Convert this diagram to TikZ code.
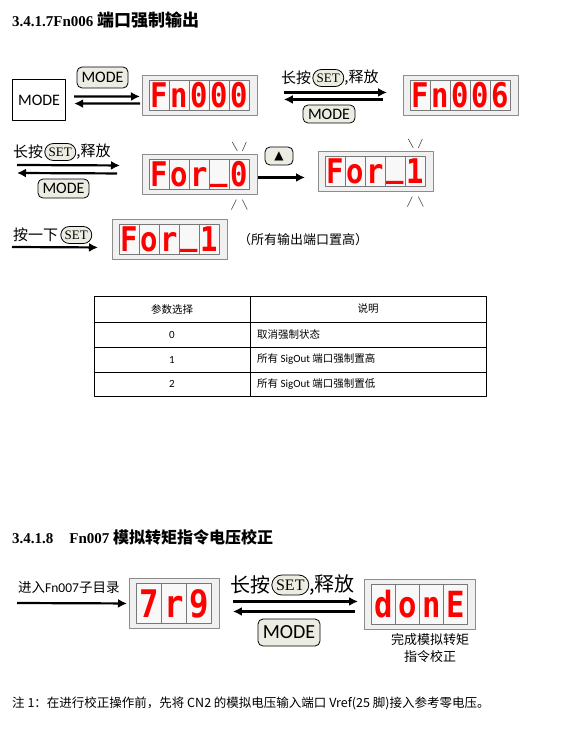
\documentclass[tikz,border=0pt]{standalone}
\usepackage{fontspec}
\setmainfont{Liberation Serif}
\newfontfamily\cjk{Noto Sans CJK SC}
\newfontfamily\carlito{Carlito}
\newfontfamily\ledfont{DejaVu Sans Mono}
\newfontfamily\dejavu{DejaVu Sans}
\usetikzlibrary{positioning,arrows.meta,shapes.misc}

\definecolor{ledred}{RGB}{255,0,0}
\definecolor{keyfill}{RGB}{236,236,226}
\definecolor{panelfill}{RGB}{240,240,240}
\definecolor{panelline}{RGB}{140,140,140}
\definecolor{cellfill}{RGB}{248,248,248}
\definecolor{cellline}{RGB}{120,120,120}
\definecolor{blinkgray}{RGB}{70,70,70}

\newcommand{\lowbar}{\raisebox{0.2em}{\_}}

% Panel de LEDs: nombre, x, y, celdas, ancho, alto, caracteres, tamaño
\newcommand{\leddisp}[8]{%
  \node[ledframe,minimum width=#4*#5pt+15pt,minimum height=#6pt+10pt]
    (#1) at (#2,#3) {};
  \foreach \ch [count=\k from 0] in {#7}
    \node[ledcell,minimum width=#5pt,minimum height=#6pt,
      font=\ledfont\bfseries\fontsize{#8}{#8}\selectfont]
      (#1-\k) at (#2+7+\k*#5,#3+5)
      {\vphantom{F}\smash{\scalebox{0.85}[1]{\ch}}};
}

% Marcas de parpadeo sobre y bajo una celda
\newcommand{\blinkmarks}[1]{%
  \draw[blink] ([shift={(-7,-17)}]#1.north) -- ([shift={(-2,-8)}]#1.north);
  \draw[blink] ([shift={(7,-17)}]#1.north) -- ([shift={(3,-8)}]#1.north);
  \draw[blink] ([shift={(-3,10)}]#1.south) -- ([shift={(-8,20)}]#1.south);
  \draw[blink] ([shift={(3,10)}]#1.south) -- ([shift={(8,20)}]#1.south);
}

\begin{document}
\begin{tikzpicture}[x=1pt,y=-1pt,line join=round,
    txt/.style={inner sep=0pt},
    flow/.style={line width=2.2pt,-{Latex[length=9pt,width=9pt]}},
    keycap/.style={draw,line width=0.8pt,fill=keyfill,rounded corners=5pt,
      inner sep=0pt},
    setcap/.style={rounded rectangle,draw,line width=0.8pt,fill=keyfill,
      inner sep=0pt},
    ledframe/.style={anchor=north west,draw=panelline,fill=panelfill,
      line width=0.9pt,inner sep=0pt},
    ledcell/.style={anchor=north west,draw=cellline,fill=cellfill,
      line width=0.6pt,inner sep=0pt,text=ledred},
    blink/.style={blinkgray,line width=0.6pt},
    tabline/.style={line width=0.6pt}]

    % Fondo y márgenes
    \fill[white] (0,0) rectangle (571,746);

    %----------------------------------------------------------
    % 3.4.1.7 Fn006
    \node[txt,anchor=west,font=\fontsize{15}{18}\selectfont\bfseries] (title1)
        at (12,20) {3.4.1.7Fn006 {\cjk\fontsize{17}{18}\selectfont 端口强制输出}};

    % Fila 1: MODE -> Fn000 -> Fn006
    \node[draw,line width=1.2pt,anchor=north west,minimum width=53pt,
        minimum height=41pt,inner sep=0pt,
        font=\carlito\fontsize{16}{18}\selectfont] (modebox) at (12,79) {MODE};
    \node[keycap,minimum width=51pt,minimum height=21pt,
        font=\carlito\fontsize{16}{18}\selectfont] (modekey1) at (102.5,77.5) {MODE};
    \leddisp{fn000}{142}{75}{5}{20}{30}{F,n,0,0,0}{34}
    \draw[flow] ([xshift=8pt,yshift=3.5pt]modebox.east)
        -- ([xshift=-2pt,yshift=-1pt]fn000.west);
    \draw[flow] ([xshift=-2pt,yshift=-8pt]fn000.west)
        -- ([xshift=8pt,yshift=-3.5pt]modebox.east);

    \node[txt,anchor=west,font=\cjk\fontsize{15}{18}\selectfont] (press1)
        at (281,78) {长按};
    \node[setcap,right=1pt of press1,minimum width=31pt,minimum height=17pt,
        font=\fontsize{13}{15}\selectfont] (setkey1) {SET};
    \node[txt,right=0pt of setkey1,font=\cjk\fontsize{15}{18}\selectfont] (rel1) {,释放};
    \leddisp{fn006}{403}{75}{5}{20}{30}{F,n,0,0,6}{34}
    \draw[flow] ([xshift=26pt,yshift=3pt]fn000.east)
        -- ([xshift=-16pt,yshift=3pt]fn006.west);
    \draw[flow] ([xshift=-20pt,yshift=-4pt]fn006.west)
        -- ([xshift=26pt,yshift=-4pt]fn000.east);
    \node[keycap,minimum width=52pt,minimum height=18pt,
        font=\carlito\fontsize{16}{18}\selectfont] (modekey2) at (329,114) {MODE};

    % Fila 2: For_0 -> For_1
    \node[txt,anchor=west,font=\cjk\fontsize{15}{18}\selectfont] (press2)
        at (13,152) {长按};
    \node[setcap,right=1pt of press2,minimum width=31pt,minimum height=17pt,
        font=\fontsize{13}{15}\selectfont] (setkey2) {SET};
    \node[txt,right=0pt of setkey2,font=\cjk\fontsize{15}{18}\selectfont] (rel2) {,释放};
    \coordinate (in2) at (17,165);
    \coordinate (out2) at (17,173);
    \leddisp{for0}{142}{154}{5}{20}{30}{F,o,r,\lowbar,0}{34}
    \draw[flow] (in2) -- ([xshift=-22pt,yshift=9pt]for0.west);
    \draw[flow] ([xshift=-25pt,yshift=1pt]for0.west) -- (out2);
    \node[keycap,minimum width=51pt,minimum height=19pt,
        font=\carlito\fontsize{16}{18}\selectfont] (modekey3) at (63.5,188.5) {MODE};
    \blinkmarks{for0-4}

    \node[keycap,minimum width=28pt,minimum height=18pt,
        font=\dejavu\fontsize{12}{12}\selectfont] (upkey) at (279,156) {▲};
    \leddisp{for1}{318}{151}{5}{20}{30}{F,o,r,\lowbar,1}{34}
    \blinkmarks{for1-4}
    \draw[flow] ([yshift=-3pt]for0.east) -- ([xshift=-13pt,yshift=-6pt]for1.west);

    % Fila 3: confirmación
    \node[txt,anchor=west,font=\cjk\fontsize{15}{18}\selectfont] (tap3)
        at (13,235) {按一下};
    \node[setcap,right=2pt of tap3,minimum width=31pt,minimum height=17pt,
        font=\fontsize{13}{15}\selectfont] (setkey3) {SET};
    \coordinate (in3) at (12,247);
    \leddisp{for1b}{112}{219}{5}{20}{30}{F,o,r,\lowbar,1}{34}
    \draw[flow] (in3) -- ([xshift=-14pt,yshift=-8pt]for1b.west);
    \node[txt,anchor=west,font=\cjk\fontsize{13}{15}\selectfont] (hint3)
        at (238,240) {（所有输出端口置高）};

    % Tabla de parámetros
    \draw[tabline] (94,296) rectangle (486,396);
    \draw[tabline] (250,296) -- (250,396);
    \foreach \yy in {322,347,372}
        \draw[tabline] (94,\yy) -- (486,\yy);
    \node[txt,font=\cjk\fontsize{10.5}{12}\selectfont] (colpar) at (172,309) {参数选择};
    \node[txt,font=\cjk\fontsize{10.5}{12}\selectfont] (coldesc) at (368,309) {说明};
    \node[txt,font=\carlito\fontsize{11}{12}\selectfont] (val0) at (172,334.5) {0};
    \node[txt,font=\carlito\fontsize{11}{12}\selectfont] (val1) at (172,359.5) {1};
    \node[txt,font=\carlito\fontsize{11}{12}\selectfont] (val2) at (172,384) {2};
    \node[txt,anchor=west,font=\cjk\fontsize{10.5}{12}\selectfont] (desc0)
        at (257,334.5) {取消强制状态};
    \node[txt,anchor=west,font=\cjk\fontsize{10.5}{12}\selectfont] (desc1)
        at (257,359.5) {所有 {\carlito\fontsize{11}{12}\selectfont SigOut} 端口强制置高};
    \node[txt,anchor=west,font=\cjk\fontsize{10.5}{12}\selectfont] (desc2)
        at (257,384) {所有 {\carlito\fontsize{11}{12}\selectfont SigOut} 端口强制置低};

    %----------------------------------------------------------
    % 3.4.1.8 Fn007
    \node[txt,anchor=west,font=\fontsize{15}{18}\selectfont\bfseries] (title2)
        at (12,537) {3.4.1.8\hspace{16pt}Fn007 {\cjk\fontsize{16}{18}\selectfont 模拟转矩指令电压校正}};

    \node[txt,anchor=west,font=\fontsize{13.5}{16}\selectfont] (enter4)
        at (18,588) {{\cjk 进入}{\carlito Fn007}{\cjk 子目录}};
    \coordinate (in4) at (17,603);
    \leddisp{trq}{129}{578}{3}{25}{40}{7,r,9}{38}
    \draw[flow] (in4) -- ([xshift=-2pt]trq.west);

    \node[txt,anchor=west,font=\cjk\fontsize{20}{22}\selectfont] (press4)
        at (230,585) {长按};
    \node[setcap,right=1pt of press4,minimum width=37pt,minimum height=20pt,
        font=\fontsize{16}{18}\selectfont] (setkey4) {SET};
    \node[txt,right=0pt of setkey4,font=\cjk\fontsize{20}{22}\selectfont] (rel4) {,释放};
    \leddisp{done}{364}{579}{4}{24}{40}{d,o,n,E}{36}
    \draw[flow] ([xshift=13pt,yshift=2pt]trq.east)
        -- ([xshift=-6pt,yshift=3pt]done.west);
    \draw[flow] ([xshift=-9pt,yshift=-7pt]done.west)
        -- ([xshift=13pt,yshift=-8pt]trq.east);
    \node[keycap,minimum width=62pt,minimum height=27pt,
        font=\carlito\fontsize{20}{22}\selectfont] (modekey4) at (289,632.5) {MODE};
    \node[txt,anchor=north,align=center,font=\cjk\fontsize{13}{17}\selectfont] (donenote)
        at (430,633) {完成模拟转矩\\指令校正};

    % Nota final
    \node[txt,anchor=west,font=\cjk\fontsize{12.5}{15}\selectfont] (note1)
        at (12,703) {注 1：在进行校正操作前，先将 CN2 的模拟电压输入端口 Vref(25 脚)接入参考零电压。};
\end{tikzpicture}
\end{document}
